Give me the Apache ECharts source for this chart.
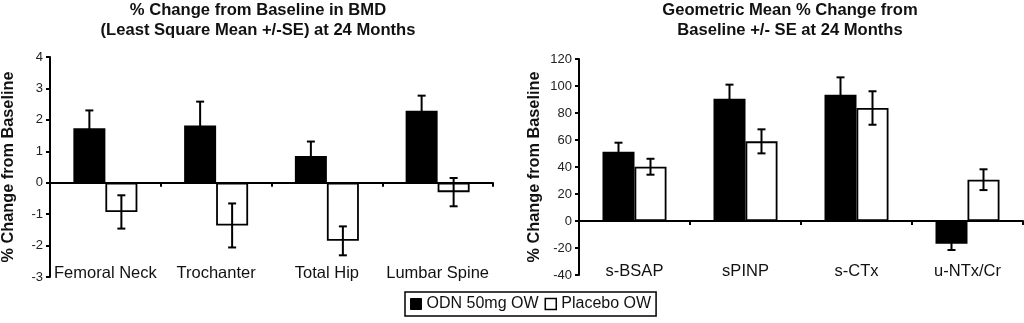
<!DOCTYPE html>
<html>
<head>
<meta charset="utf-8">
<script src="https://cdn.jsdelivr.net/npm/echarts@6/dist/echarts.min.js"></script>
<style>
  html, body { margin: 0; padding: 0; background: #fff; }
  #chart { width: 1024px; height: 323px; }
</style>
</head>
<body>
<div id="chart"></div>
<script>
// Bone mineral density panel
const bmdCategories = ['Femoral Neck', 'Trochanter', 'Total Hip', 'Lumbar Spine'];
const bmdOdn = [1.73, 1.82, 0.85, 2.29];
const bmdOdnSe = [0.57, 0.76, 0.46, 0.48];
const bmdPlacebo = [-0.93, -1.36, -1.85, -0.30];
const bmdPlaceboSe = [0.53, 0.70, 0.46, 0.45];
const bmdTicks = { min: -3, max: 4, interval: 1 };

// Bone turnover marker panel
const markerCategories = ['s-BSAP', 'sPINP', 's-CTx', 'u-NTx/Cr'];
const markerOdn = [51.3, 90.6, 93.6, -16.8];
const markerOdnSe = [6.7, 10.4, 12.8, 4.7];
const markerPlacebo = [40.2, 59.0, 83.7, 30.6];
const markerPlaceboSe = [5.9, 8.9, 12.4, 7.7];
const markerTicks = { min: -40, max: 120, interval: 20 };

const seriesNames = ['ODN 50mg OW', 'Placebo OW'];
const titles = [
  '% Change from Baseline in BMD\n(Least Square Mean +/-SE) at 24 Months',
  'Geometric Mean % Change from\nBaseline +/- SE at 24 Months'
];
const yAxisTitle = '% Change from Baseline';

const FONT = '"Liberation Sans", Arial, sans-serif';
const INK = '#111';
const BAR_W = 32;

function errorBarSeries(name, axisIndex, values, errors, side) {
  return {
    type: 'custom',
    name: name,
    xAxisIndex: axisIndex * 2,
    yAxisIndex: axisIndex,
    z: 5,
    silent: true,
    data: values.map((v, i) => [i, v, errors[i]]),
    renderItem: function (params, api) {
      const i = api.value(0), v = api.value(1), e = api.value(2);
      const top = api.coord([i, v + e]);
      const bot = api.coord([i, v - e]);
      const x = top[0] + side * BAR_W / 2;
      const cap = 4;
      const style = { stroke: '#000', lineWidth: 2, fill: null };
      return {
        type: 'group',
        children: [
          { type: 'line', shape: { x1: x, y1: top[1], x2: x, y2: bot[1] }, style: style },
          { type: 'line', shape: { x1: x - cap, y1: top[1], x2: x + cap, y2: top[1] }, style: style },
          { type: 'line', shape: { x1: x - cap, y1: bot[1], x2: x + cap, y2: bot[1] }, style: style }
        ]
      };
    }
  };
}

function barSeries(name, axisIndex, values, fill) {
  return {
    type: 'bar',
    name: name,
    xAxisIndex: axisIndex * 2,
    yAxisIndex: axisIndex,
    data: values,
    barWidth: BAR_W,
    barGap: '0%',
    itemStyle: { color: fill, borderColor: '#000', borderWidth: 1.8 },
    emphasis: { disabled: true }
  };
}

function xAxes(gridIndex, categories) {
  return [
    {
      // zero line with category separators
      type: 'category', gridIndex: gridIndex, data: categories,
      position: 'top',
      axisLine: { onZero: true, lineStyle: { color: '#000', width: 2 } },
      axisTick: { show: true, inside: true, length: 4, interval: 0, lineStyle: { color: '#000', width: 2 } },
      axisLabel: { show: false },
      splitLine: { show: false }
    },
    {
      // category names along the bottom of the plot
      type: 'category', gridIndex: gridIndex, data: categories,
      position: 'bottom',
      axisLine: { show: false },
      axisTick: { show: false },
      axisLabel: {
        show: true, interval: 0, margin: 0, verticalAlign: 'middle',
        color: INK, fontFamily: FONT, fontSize: 16.5
      },
      offset: -4,
      splitLine: { show: false }
    }
  ];
}

function yAxis(gridIndex, ticks, gap, margin) {
  return {
    type: 'value', gridIndex: gridIndex,
    min: ticks.min, max: ticks.max, interval: ticks.interval,
    name: yAxisTitle, nameLocation: 'middle', nameGap: gap,
    nameTextStyle: { fontFamily: FONT, fontSize: 16.3, fontWeight: 'bold', color: INK },
    axisLine: { show: true, lineStyle: { color: '#000', width: 2 } },
    axisTick: { show: true, length: 4, lineStyle: { color: '#000', width: 2 } },
    axisLabel: { color: '#222', fontFamily: FONT, fontSize: 13, margin: margin },
    splitLine: { show: false }
  };
}

const chart = echarts.init(document.getElementById('chart'), null, { renderer: 'canvas' });

const titleStyle = { fontFamily: FONT, fontSize: 16.6, fontWeight: 'bold', color: INK, lineHeight: 20 };

chart.setOption({
  animation: false,
  backgroundColor: '#fff',
  title: [
    { text: titles[0], left: 258, top: 0, textAlign: 'center', padding: 0, textStyle: titleStyle },
    { text: titles[1], left: 790, top: 0, textAlign: 'center', padding: 0, textStyle: titleStyle }
  ],
  legend: {
    left: 405, top: 292,
    orient: 'horizontal',
    itemWidth: 11, itemHeight: 11, itemGap: 6,
    padding: [4, 5, 4, 5],
    borderColor: '#000', borderWidth: 1.5,
    selectedMode: false,
    textStyle: { fontFamily: FONT, fontSize: 16, color: INK },
    data: [
      { name: seriesNames[0], icon: 'rect', itemStyle: { color: '#000', borderColor: '#000', borderWidth: 1 } },
      { name: seriesNames[1], icon: 'rect', itemStyle: { color: '#fff', borderColor: '#000', borderWidth: 1.5 } }
    ]
  },
  grid: [
    { left: 49, right: 531, top: 57, bottom: 46 },
    { left: 579, right: 1, top: 59, bottom: 48 }
  ],
  xAxis: [].concat(xAxes(0, bmdCategories), xAxes(1, markerCategories)),
  yAxis: [yAxis(0, bmdTicks, 33, 7), yAxis(1, markerTicks, 36, 7)],
  series: [
    barSeries(seriesNames[0], 0, bmdOdn, '#000'),
    barSeries(seriesNames[1], 0, bmdPlacebo, '#fff'),
    errorBarSeries(seriesNames[0], 0, bmdOdn, bmdOdnSe, -1),
    errorBarSeries(seriesNames[1], 0, bmdPlacebo, bmdPlaceboSe, 1),
    barSeries(seriesNames[0], 1, markerOdn, '#000'),
    barSeries(seriesNames[1], 1, markerPlacebo, '#fff'),
    errorBarSeries(seriesNames[0], 1, markerOdn, markerOdnSe, -1),
    errorBarSeries(seriesNames[1], 1, markerPlacebo, markerPlaceboSe, 1)
  ]
});
</script>
</body>
</html>
